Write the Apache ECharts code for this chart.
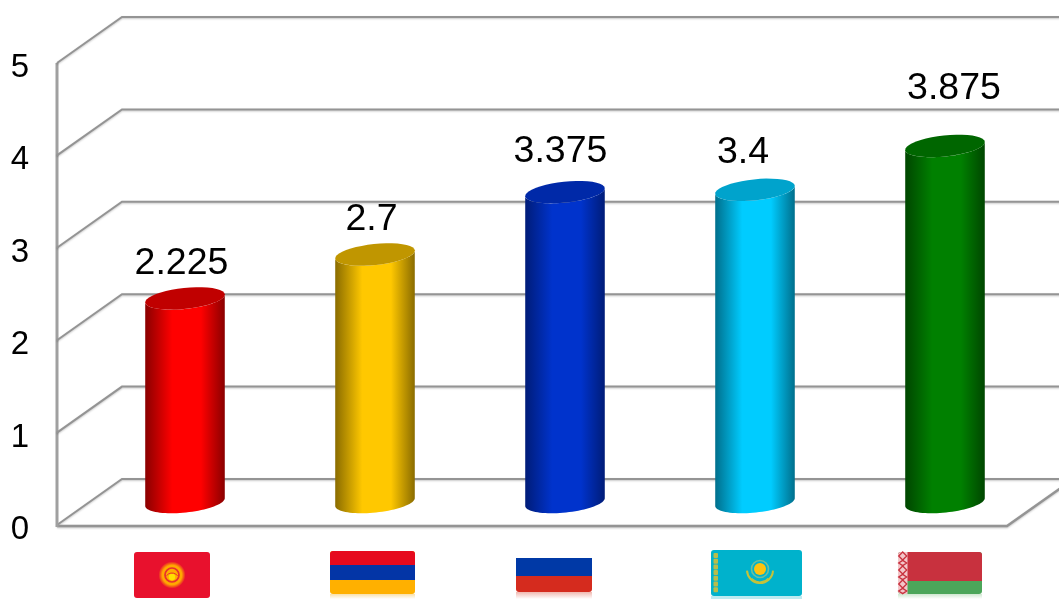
<!DOCTYPE html>
<html>
<head>
<meta charset="utf-8">
<style>html,body{margin:0;padding:0;background:#fff}#c{width:1059px;height:599px}</style>
<script src="https://cdn.jsdelivr.net/npm/echarts@6/dist/echarts.min.js"></script>
</head>
<body>
<div id="c"></div>
<script>
var countries = ['Kyrgyzstan', 'Armenia', 'Russia', 'Kazakhstan', 'Belarus'];
var values = [2.225, 2.7, 3.375, 3.4, 3.875];
var valueLabels = ['2.225', '2.7', '3.375', '3.4', '3.875'];
var yTicks = [0, 1, 2, 3, 4, 5];
var sideColors = ['#ff0000', '#ffc800', '#0033cc', '#00ccff', '#008000'];
var edgeColors = ['#8a0000', '#8a6c00', '#001c78', '#006f8c', '#004600'];
var capColors = ['#c00000', '#c09600', '#0029a8', '#00a3cc', '#006600'];

/* layout of the pseudo-3D box */
var DEPTH_X = 65, DEPTH_Y = -46, CYL_TOP_DY = -21, CYL_BASE_DY = -23;
var RX = 40, RY = 10.5, TILT = -6 * Math.PI / 180;
var labelNudge = [[-3.5, -35], [-3.5, -35], [-4.5, -40], [-12, -37], [9, -57]];

function ell(cx, cy, t) {
  var px = RX * Math.cos(t), py = RY * Math.sin(t);
  return [cx + px * Math.cos(TILT) - py * Math.sin(TILT),
          cy + px * Math.sin(TILT) + py * Math.cos(TILT)];
}
function arc(cx, cy, from, to) {
  var pts = [], n = 40;
  for (var i = 0; i <= n; i++) pts.push(ell(cx, cy, from + (to - from) * i / n));
  return pts;
}

function lineStyle(w) {
  return { stroke: '#949494', lineWidth: w, fill: null, shadowBlur: 2, shadowColor: 'rgba(0,0,0,0.22)', shadowOffsetY: 1 };
}

function renderWall(params, api) {
  var tick = api.value(1);
  var sys = params.coordSys;
  var p = api.coord([0, tick]);
  var x0 = sys.x, y = p[1], xEnd = sys.x + sys.width;
  var children = [{
    type: 'polyline',
    shape: { points: [[x0, y], [x0 + DEPTH_X, y + DEPTH_Y], [xEnd + DEPTH_X, y + DEPTH_Y]] },
    style: lineStyle(2)
  }];
  if (tick === 0) {
    children.push({
      type: 'polyline',
      shape: { points: [[x0, y + 1], [xEnd, y + 1], [xEnd + DEPTH_X, y + 1 + DEPTH_Y]] },
      style: lineStyle(2.5)
    });
    children.push({
      type: 'line',
      shape: { x1: x0, y1: y + 2, x2: x0, y2: api.coord([0, yTicks[yTicks.length - 1]])[1] },
      style: { stroke: '#a0a0a0', lineWidth: 3 }
    });
  }
  return { type: 'group', children: children };
}

function renderCylinder(params, api) {
  var i = api.value(0);
  var top = api.coord([i, api.value(1)]);
  var base = api.coord([i, 0]);
  var cx = top[0] + DEPTH_X / 2 + 0.5;
  var topY = top[1] + CYL_TOP_DY, baseY = base[1] + CYL_BASE_DY;
  var side = arc(cx, baseY, Math.PI, 0).concat(arc(cx, topY, 0, Math.PI));
  var grad = {
    type: 'linear', x: 0, y: 0, x2: 1, y2: 0,
    colorStops: [
      { offset: 0, color: edgeColors[i] },
      { offset: 0.34, color: sideColors[i] },
      { offset: 0.7, color: sideColors[i] },
      { offset: 1, color: edgeColors[i] }
    ]
  };
  var nudge = labelNudge[i];
  return {
    type: 'group',
    children: [
      { type: 'polygon', shape: { points: side }, style: { fill: grad } },
      { type: 'polygon', shape: { points: arc(cx, topY, 0, 2 * Math.PI) }, style: { fill: capColors[i] } },
      {
        type: 'text',
        style: {
          x: cx + nudge[0], y: topY + nudge[1], text: valueLabels[i],
          font: '37.5px "Liberation Sans", Arial, sans-serif', fill: '#000',
          align: 'center', verticalAlign: 'middle'
        }
      }
    ]
  };
}

function rect(x, y, w, h, fill, r, op) {
  return { type: 'rect', shape: { x: x, y: y, width: w, height: h, r: r || 0 }, style: { fill: fill, opacity: op == null ? 1 : op } };
}
function circle(cx, cy, r, fill) {
  return { type: 'circle', shape: { cx: cx, cy: cy, r: r }, style: { fill: fill } };
}
function ring(cx, cy, r, stroke, w) {
  return { type: 'circle', shape: { cx: cx, cy: cy, r: r }, style: { fill: null, stroke: stroke, lineWidth: w } };
}
function fade(color) {
  return { type: 'linear', x: 0, y: 0, x2: 0, y2: 1, colorStops: [{ offset: 0, color: color }, { offset: 1, color: '#ffffff' }] };
}

var flagDrawers = [
  function () {
    var cx = 172, cy = 575;
    return [
      rect(134, 552, 76, 46, '#e8112d', 3),
      circle(cx, cy, 13.5, {
        type: 'radial', x: 0.5, y: 0.5, r: 0.5,
        colorStops: [{ offset: 0, color: '#ffb000' }, { offset: 0.72, color: '#ffa800' }, { offset: 1, color: '#e8112d' }]
      }),
      ring(cx, cy, 7, '#e8302d', 1.7),
      circle(cx, cy + 2, 3.2, '#ffe000'),
      { type: 'arc', shape: { cx: cx, cy: cy + 5, r: 7, startAngle: Math.PI * 1.2, endAngle: Math.PI * 1.8 }, style: { stroke: '#e8302d', lineWidth: 1, fill: null } }
    ];
  },
  function () {
    return [
      rect(330, 594, 85, 5, fade('#f9e0a8')),
      rect(330, 551, 85, 43, '#ffb000', 3),
      rect(330, 551, 85, 14, '#e60a1e', [3, 3, 0, 0]),
      rect(330, 565, 85, 15, '#0335a6')
    ];
  },
  function () {
    return [
      rect(516, 592, 76, 7, fade('#f0b8b0')),
      rect(516, 576, 76, 16, '#d52b1e', [0, 0, 3, 3]),
      rect(516, 558, 76, 18, '#0039a6')
    ];
  },
  function () {
    var c = [rect(711, 596, 91, 3, '#bdeaf0'), rect(711, 550, 91, 46, '#00b2cc', 3)];
    for (var k = 0; k < 7; k++) c.push(rect(713.5, 553 + k * 5.7, 4.5, 5, '#b9bd4a', 1));
    var cx = 760, cy = 569;
    c.push(ring(cx, cy, 8.5, '#6fbf9a', 1.6));
    c.push(circle(cx, cy, 6, '#ffc20e'));
    c.push({ type: 'arc', shape: { cx: cx, cy: cy + 1, r: 13, startAngle: 0.05, endAngle: Math.PI - 0.05 }, style: { stroke: '#c4c23a', lineWidth: 2, fill: null } });
    c.push({ type: 'arc', shape: { cx: cx, cy: cy + 2, r: 11, startAngle: 0.7, endAngle: Math.PI - 0.7 }, style: { stroke: '#c4c23a', lineWidth: 1.2, fill: null } });
    return c;
  },
  function () {
    var c = [
      rect(898, 594, 84, 5, fade('#cfe7d0')),
      rect(898, 552, 84, 42, '#4ca65a', 3),
      rect(898, 552, 84, 29, '#c8313e', [3, 3, 0, 0]),
      rect(898, 552, 9.5, 42, '#f3c6c9', [3, 0, 0, 3])
    ];
    for (var k = 0; k < 6; k++) {
      var y = 556 + k * 7;
      var s = k % 2 ? 2.6 : 4;
      c.push({ type: 'polygon', shape: { points: [[902.7, y - s], [902.7 + 4, y], [902.7, y + s], [902.7 - 4, y]] }, style: { fill: null, stroke: '#c8313e', lineWidth: 1.3 } });
    }
    return c;
  }
];

function renderFlag(params, api) {
  return { type: 'group', children: flagDrawers[api.value(0)]() };
}

var chart = echarts.init(document.getElementById('c'), null, { renderer: 'canvas' });
chart.setOption({
  animation: false,
  backgroundColor: '#ffffff',
  grid: { left: 57, right: 52, top: 63, bottom: 74 },
  xAxis: {
    type: 'category', data: countries,
    axisLine: { show: false }, axisTick: { show: false }, axisLabel: { show: false }, splitLine: { show: false }
  },
  yAxis: {
    type: 'value', min: 0, max: 5, interval: 1,
    axisLine: { show: false }, axisTick: { show: false }, splitLine: { show: false },
    axisLabel: {
      color: '#000', fontSize: 33, fontFamily: '"Liberation Sans", Arial, sans-serif',
      margin: 28, verticalAlign: 'top', lineHeight: 10
    }
  },
  series: [
    {
      type: 'custom', renderItem: renderWall, silent: true, z: 1, clip: false,
      encode: { x: 0, y: 1 },
      data: yTicks.map(function (t) { return [0, t]; })
    },
    {
      type: 'custom', renderItem: renderCylinder, silent: true, z: 2, clip: false,
      encode: { x: 0, y: 1 },
      data: values.map(function (v, i) { return [i, v]; })
    },
    {
      type: 'custom', renderItem: renderFlag, silent: true, z: 3, clip: false,
      encode: { x: 0, y: 1 },
      data: countries.map(function (c, i) { return [i, 0]; })
    }
  ]
});
</script>
</body>
</html>
